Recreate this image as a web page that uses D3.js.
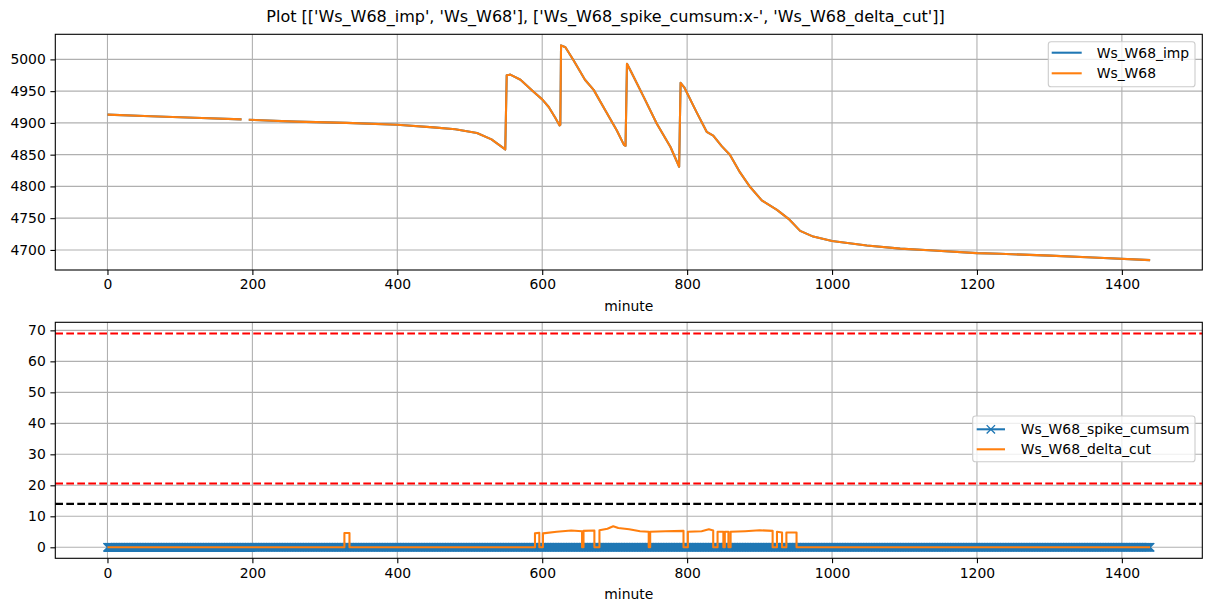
<!DOCTYPE html>
<html>
<head>
<meta charset="utf-8">
<script src="https://cdn.jsdelivr.net/npm/d3@7"></script>
<style>
  body { margin: 0; background: #fff; }
  svg { display: block; }
  text { font-family: "DejaVu Sans", sans-serif; }
</style>
</head>
<body>
<svg id="chart" width="1211" height="611"></svg>
<script>
// ---------------- DATA ----------------
const titleText = "Plot [['Ws_W68_imp', 'Ws_W68'], ['Ws_W68_spike_cumsum:x-', 'Ws_W68_delta_cut']]";
const xTicks = [0, 200, 400, 600, 800, 1000, 1200, 1400];
const topYTicks = [4700, 4750, 4800, 4850, 4900, 4950, 5000];
const botYTicks = [0, 10, 20, 30, 40, 50, 60, 70];

// Ws_W68 (and its imputed twin) — minute / value, null = gap
const wsMinutes = [0, 60, 120, 185, 190, 195, 260, 330, 400, 450, 480, 510, 530, 548, 549, 551, 556, 570, 588, 600, 609, 618, 624, 625, 626, 632, 643, 659, 671, 687, 703, 713, 715, 717, 722, 740, 758, 777, 789, 790, 791, 796, 813, 827, 836, 848, 859, 873, 887, 903, 924, 940, 956, 974, 1000, 1048, 1094, 1140, 1200, 1232, 1301, 1360, 1439];
const wsValues  = [4913, 4910.5, 4908, 4905.5, null, 4905, 4902, 4900, 4897, 4893, 4890, 4884, 4874, 4859, 4858, 4975, 4976, 4968, 4949, 4937, 4925, 4908, 4896, 4897, 5022, 5019, 4999, 4968, 4952, 4920, 4888, 4865, 4864, 4993, 4982, 4941, 4899, 4862, 4831, 4900, 4963, 4956, 4917, 4886, 4880, 4863, 4850, 4822, 4799, 4778, 4763, 4749, 4730, 4721, 4714, 4707, 4702, 4699, 4695, 4694, 4691, 4688, 4684];
const wsImpValues = wsValues;

// Ws_W68_spike_cumsum: zero at every minute of the day
const spikeMinutes = d3.range(0, 1440);
const spikeValues = spikeMinutes.map(() => 0);

// Ws_W68_delta_cut
const dcMinutes = [0, 327, 327, 334, 334, 590, 590, 596, 596, 601, 601, 620, 640, 655, 655, 657, 657, 672, 672, 679, 679, 690, 698, 705, 720, 735, 747, 747, 749, 749, 770, 795, 795, 801, 801, 820, 830, 836, 836, 842, 842, 850, 850, 852, 852, 857, 857, 860, 860, 880, 900, 918, 918, 924, 924, 931, 931, 937, 937, 951, 951, 1439];
const dcValues  = [0, 0, 4.6, 4.6, 0, 0, 4.5, 4.7, 0, 0, 4.5, 5.0, 5.4, 5.2, 0, 0, 5.3, 5.4, 0, 0, 5.5, 6.0, 6.8, 6.2, 5.8, 5.2, 5.0, 0, 0, 5.0, 5.2, 5.3, 0, 0, 5.0, 5.2, 5.8, 5.4, 0, 0, 5.0, 5.0, 0, 0, 5.0, 5.0, 0, 0, 5.0, 5.2, 5.5, 5.3, 0, 0, 5.0, 4.8, 0, 0, 4.8, 4.8, 0, 0];

// threshold lines
const redLines = [69, 20.6];
const blackLines = [14];

const topLegend = ["Ws_W68_imp", "Ws_W68"];
const botLegend = ["Ws_W68_spike_cumsum", "Ws_W68_delta_cut"];

// ---------------- DRAW ----------------
const BLUE = "#1f77b4", ORANGE = "#ff7f0e", GRID = "#b0b0b0";
const svg = d3.select("#chart");
const L = 55.3, R = 1202.3;
const topBox = { t: 34.3, b: 270 };
const botBox = { t: 322.3, b: 558.3 };
const FS = 13.9;

svg.append("text").attr("x", 605.5).attr("y", 22).attr("text-anchor", "middle")
  .attr("font-size", 16).text(titleText);

const x = d3.scaleLinear().domain([-72, 1511]).range([L, R]);
const yTop = d3.scaleLinear().domain([4668.4, 5039.5]).range([topBox.b, topBox.t]);
const yBot = d3.scaleLinear().domain([-3.55, 72.6]).range([botBox.b, botBox.t]);

function frame(box, y, yTicks, clipId) {
  const g = svg.append("g");
  svg.append("clipPath").attr("id", clipId).append("rect")
    .attr("x", L).attr("y", box.t).attr("width", R - L).attr("height", box.b - box.t);
  // grid
  g.selectAll(".gx").data(xTicks).join("line")
    .attr("x1", d => x(d)).attr("x2", d => x(d)).attr("y1", box.t).attr("y2", box.b)
    .attr("stroke", GRID).attr("stroke-width", 1.1);
  g.selectAll(".gy").data(yTicks).join("line")
    .attr("x1", L).attr("x2", R).attr("y1", d => y(d)).attr("y2", d => y(d))
    .attr("stroke", GRID).attr("stroke-width", 1.1);
  // axes
  const ax = svg.append("g").attr("transform", `translate(0,${box.b})`)
    .call(d3.axisBottom(x).tickValues(xTicks).tickSize(4.9).tickPadding(4.6).tickFormat(d3.format("d")));
  const ay = svg.append("g").attr("transform", `translate(${L},0)`)
    .call(d3.axisLeft(y).tickValues(yTicks).tickSize(4.9).tickPadding(4.6).tickFormat(d3.format("d")));
  [ax, ay].forEach(a => {
    a.select(".domain").remove();
    a.selectAll(".tick line").attr("stroke", "#000").attr("stroke-width", 1.1);
    a.selectAll(".tick text").attr("font-size", FS).attr("fill", "#000")
      .attr("font-family", "DejaVu Sans, sans-serif");
  });
  svg.append("text").attr("x", (L + R) / 2).attr("y", box.b + 41)
    .attr("text-anchor", "middle").attr("font-size", FS).text("minute");
  return g;
}
function spines(box) {
  svg.append("rect").attr("x", L).attr("y", box.t).attr("width", R - L).attr("height", box.b - box.t)
    .attr("fill", "none").attr("stroke", "#000").attr("stroke-width", 1.1);
}

// ----- top panel -----
frame(topBox, yTop, topYTicks, "clipTop");
const topData = wsMinutes.map((m, i) => ({ m, v: wsValues[i], vi: wsImpValues[i] }));
const lineTop = key => d3.line().defined(d => d[key] != null).x(d => x(d.m)).y(d => yTop(d[key]));
const gTop = svg.append("g").attr("clip-path", "url(#clipTop)");
gTop.append("path").datum(topData).attr("d", lineTop("vi"))
  .attr("fill", "none").attr("stroke", BLUE).attr("stroke-width", 2.08).attr("stroke-linejoin", "round");
gTop.append("path").datum(topData).attr("d", lineTop("v"))
  .attr("fill", "none").attr("stroke", ORANGE).attr("stroke-width", 2.08).attr("stroke-linejoin", "round");
spines(topBox);

// ----- bottom panel -----
frame(botBox, yBot, botYTicks, "clipBot");
const gBot = svg.append("g");
const spikeData = spikeMinutes.map((m, i) => ({ m, v: spikeValues[i] }));
gBot.append("path").datum(spikeData)
  .attr("d", d3.line().x(d => x(d.m)).y(d => yBot(d.v)))
  .attr("fill", "none").attr("stroke", BLUE).attr("stroke-width", 2.08);
const ms = 4.17;
let mp = "";
spikeData.forEach(d => {
  const cx = x(d.m), cy = yBot(d.v);
  mp += `M${cx - ms},${cy - ms}L${cx + ms},${cy + ms}M${cx - ms},${cy + ms}L${cx + ms},${cy - ms}`;
});
gBot.append("path").attr("d", mp).attr("stroke", BLUE).attr("stroke-width", 1.39).attr("fill", "none");
const dcData = dcMinutes.map((m, i) => ({ m, v: dcValues[i] }));
gBot.append("path").datum(dcData)
  .attr("d", d3.line().x(d => x(d.m)).y(d => yBot(d.v)))
  .attr("fill", "none").attr("stroke", ORANGE).attr("stroke-width", 2.08).attr("stroke-linejoin", "round");
// threshold lines
svg.selectAll(".red").data(redLines).join("line")
  .attr("x1", L).attr("x2", R).attr("y1", d => yBot(d)).attr("y2", d => yBot(d))
  .attr("stroke", "red").attr("stroke-width", 2.08).attr("stroke-dasharray", "7.7,3.3");
svg.selectAll(".blk").data(blackLines).join("line")
  .attr("x1", L).attr("x2", R).attr("y1", d => yBot(d)).attr("y2", d => yBot(d))
  .attr("stroke", "black").attr("stroke-width", 2.08).attr("stroke-dasharray", "7.7,3.3");
spines(botBox);

// ----- legends -----
function legend(bx, by, bw, bh, labels, rowYs, hx0, hx1, tx, markerFirst) {
  const g = svg.append("g");
  g.append("rect").attr("x", bx).attr("y", by).attr("width", bw).attr("height", bh)
    .attr("rx", 2.8).attr("fill", "#fff").attr("fill-opacity", 0.8)
    .attr("stroke", "#cccccc").attr("stroke-width", 1.1);
  labels.forEach((lab, i) => {
    const col = i === 0 ? BLUE : ORANGE;
    const yy = rowYs[i];
    g.append("line").attr("x1", hx0).attr("x2", hx1).attr("y1", yy).attr("y2", yy)
      .attr("stroke", col).attr("stroke-width", 2.08);
    if (markerFirst && i === 0) {
      const cx = (hx0 + hx1) / 2;
      g.append("path").attr("d", `M${cx - ms},${yy - ms}L${cx + ms},${yy + ms}M${cx - ms},${yy + ms}L${cx + ms},${yy - ms}`)
        .attr("stroke", col).attr("stroke-width", 1.39);
    }
    g.append("text").attr("x", tx).attr("y", yy + 5).attr("font-size", FS).text(lab);
  });
}
legend(1048.3, 41.7, 146.7, 45, topLegend, [52.7, 73.3], 1051.7, 1081.7, 1096.7, false);
legend(972.7, 416, 222.3, 45.7, botLegend, [429.3, 449.3], 976.7, 1005, 1020.7, true);
</script>
</body>
</html>
